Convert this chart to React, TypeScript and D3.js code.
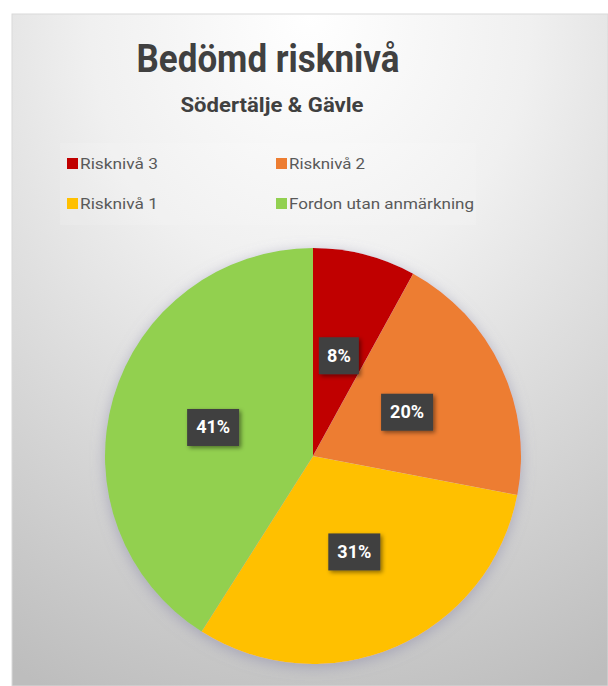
import React from "react";
import * as d3 from "d3";

const categories = ["Risknivå 3", "Risknivå 2", "Risknivå 1", "Fordon utan anmärkning"];
const values = [8, 20, 31, 41];
const colors = ["#C00000", "#ED7D31", "#FFC000", "#92D050"];
const title = "Bedömd risknivå";
const subtitle = "Södertälje & Gävle";

const W = 608;
const H = 686;
const cx = 313;
const cy = 456;
const R = 208;

export default function App() {
  const pie = d3.pie<number>().sort(null).value((d) => d)(values);
  const arc = d3.arc<d3.PieArcDatum<number>>().innerRadius(0).outerRadius(R);
  const labelArc = d3.arc<d3.PieArcDatum<number>>().innerRadius(R * 0.5).outerRadius(R * 0.5);
  const total = d3.sum(values);
  const fmt = (v: number) => `${Math.round((v / total) * 100)}%`;

  const legendX = d3.scaleOrdinal<number, number>().domain([0, 1]).range([67, 276]);
  const legendY = d3.scaleOrdinal<number, number>().domain([0, 1]).range([163, 203]);
  const legendW = [78, 76, 78, 185];

  return (
    <svg width={W} height={H} style={{ position: "absolute", left: 0, top: 0, display: "block" }}
      fontFamily="Roboto, 'Open Sans', sans-serif">
      <defs>
        <radialGradient id="bg" cx="0.5" cy="0.05" r="1.05" fx="0.5" fy="0.0">
          <stop offset="0" stopColor="#ffffff" />
          <stop offset="0.35" stopColor="#f0f0f0" />
          <stop offset="1" stopColor="#bdbdbd" />
        </radialGradient>
        <filter id="pieShadow" x="-20%" y="-20%" width="140%" height="140%">
          <feGaussianBlur in="SourceAlpha" stdDeviation="7" />
          <feOffset dx="0" dy="3" result="b" />
          <feFlood floodColor="#8a88a8" floodOpacity="0.55" />
          <feComposite in2="b" operator="in" />
          <feMerge>
            <feMergeNode />
            <feMergeNode in="SourceGraphic" />
          </feMerge>
        </filter>
        <filter id="lblShadow" x="-30%" y="-30%" width="160%" height="160%">
          <feGaussianBlur in="SourceAlpha" stdDeviation="2" />
          <feOffset dx="2" dy="2" result="b" />
          <feFlood floodColor="#000" floodOpacity="0.45" />
          <feComposite in2="b" operator="in" />
          <feMerge>
            <feMergeNode />
            <feMergeNode in="SourceGraphic" />
          </feMerge>
        </filter>
      </defs>
      <rect x={0} y={0} width={W} height={H} fill="#ffffff" />
      <rect x={12} y={14} width={W - 12} height={H - 14} fill="url(#bg)" stroke="#d9d9d9" strokeWidth={1} />
      <text x={268} y={72} textAnchor="middle" fontSize={38} fontWeight={700} fill="#404040"
        textLength={263} lengthAdjust="spacingAndGlyphs">{title}</text>
      <text x={272} y={112} textAnchor="middle" fontSize={20} fontWeight={700} fill="#404040"
        textLength={183} lengthAdjust="spacingAndGlyphs">{subtitle}</text>
      <rect x={60} y={143} width={416} height={82} fill="#ffffff" opacity={0.12} />
      {categories.map((c, i) => {
        const x = legendX(i % 2);
        const y = legendY(Math.floor(i / 2));
        return (
          <g key={c}>
            <rect x={x} y={y - 5} width={11} height={11} fill={colors[i]} />
            <text x={x + 13} y={y + 5.5} fontSize={15} fill="#595959" textLength={legendW[i]}
              lengthAdjust="spacingAndGlyphs">{c}</text>
          </g>
        );
      })}
      <g transform={`translate(${cx},${cy})`}>
        <g filter="url(#pieShadow)">
          {pie.map((d, i) => (
            <path key={i} d={arc(d) || ""} fill={colors[i]} />
          ))}
        </g>
        {pie.map((d, i) => {
          const [lx, ly] = labelArc.centroid(d);
          const txt = fmt(d.data);
          const bw = txt.length * 12 + 16;
          return (
            <g key={"l" + i} transform={`translate(${lx},${ly})`}>
              <rect x={-bw / 2} y={-18} width={bw} height={37} fill="#404040" filter="url(#lblShadow)" />
              <text x={0} y={6.5} textAnchor="middle" fontSize={18} fontWeight={700} fill="#ffffff">{txt}</text>
            </g>
          );
        })}
      </g>
    </svg>
  );
}
